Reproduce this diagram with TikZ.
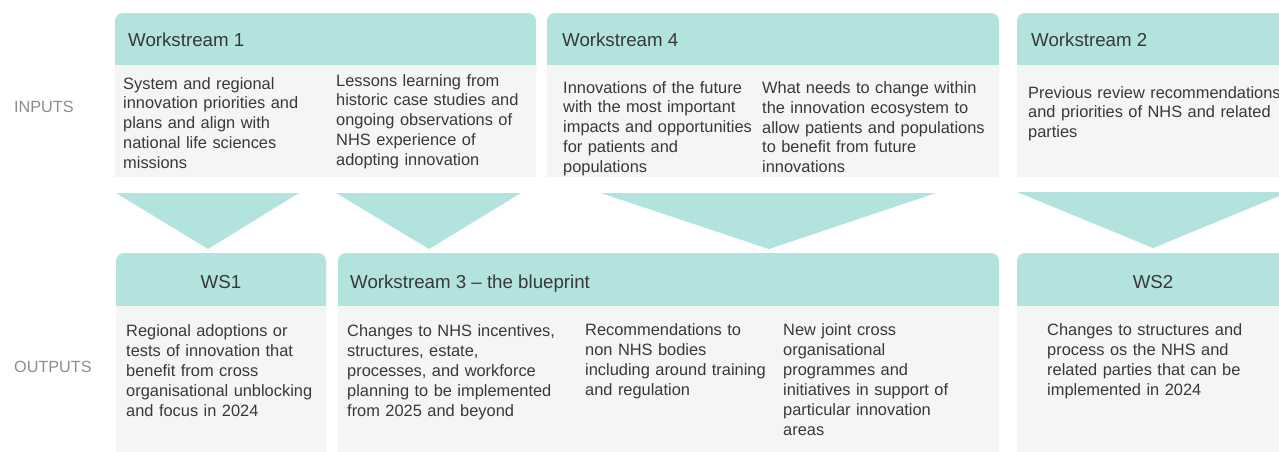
\documentclass[tikz,border=0pt]{standalone}
\usepackage{fontspec}
\setmainfont{Liberation Sans}
\definecolor{hdrteal}{HTML}{B2E3DF}
\definecolor{bodygray}{HTML}{F4F6F6}
\definecolor{txtdark}{HTML}{383838}
\definecolor{sidegray}{HTML}{8C8C8C}
\begin{document}
\begin{tikzpicture}[x=1pt,y=-1pt,
  hdrfill/.style={fill=hdrteal, rounded corners=8pt},
  bodyfill/.style={fill=bodygray},
  funnel/.style={fill=hdrteal},
  bodytext/.style={font=\fontsize{16.4}{19.8}\selectfont, text=txtdark, inner sep=0pt,
    align=left, text width=300pt, anchor=base west},
  hdrtext/.style={font=\fontsize{18.7}{22}\selectfont, text=txtdark, inner sep=0pt},
  sidelabel/.style={font=\fontsize{16.2}{19}\selectfont, text=sidegray, inner sep=0pt, anchor=base west}]
\useasboundingbox (0,0) rectangle (1279,451);
\clip (0,0) rectangle (1279,451);

% ---- input blocks: headers and bodies ----
\path[hdrfill] (115,13) rectangle (536,80);
\path[bodyfill] (115,65) rectangle (536,177);
\path[hdrfill] (547,13) rectangle (999,80);
\path[bodyfill] (547,65) rectangle (999,177);
\path[hdrfill] (1017,13) rectangle (1300,80);
\path[bodyfill] (1017,65) rectangle (1300,177);

% ---- funnels between inputs and outputs ----
\path[funnel] (116,193) -- (299,193) -- (208,249) -- cycle;
\path[funnel] (336,193) -- (521,193) -- (429,249) -- cycle;
\path[funnel] (601,193) -- (936,193) -- (769,249) -- cycle;
\path[funnel] (1017,192) -- (1289,192) -- (1153,248) -- cycle;

% ---- output blocks: headers and bodies ----
\path[hdrfill] (116,253) rectangle (326,320);
\path[bodyfill] (116,306) rectangle (326,470);
\path[hdrfill] (338,253) rectangle (999,320);
\path[bodyfill] (338,306) rectangle (999,470);
\path[hdrfill] (1017,253) rectangle (1300,320);
\path[bodyfill] (1017,306) rectangle (1300,470);

% ---- side labels ----
\node[sidelabel] (inputs) at (14,112) {INPUTS};
\node[sidelabel] (outputs) at (14,372) {OUTPUTS};

% ---- header titles ----
\node[hdrtext, anchor=base west] (h1) at (128,46.7) {Workstream 1};
\node[hdrtext, anchor=base west] (h4) at (562,46.7) {Workstream 4};
\node[hdrtext, anchor=base west] (h2) at (1031,46.7) {Workstream 2};
\node[hdrtext, anchor=base] (o1) at (221,288) {WS1};
\node[hdrtext, anchor=base west] (o3) at (350,288) {Workstream 3 – the blueprint};
\node[hdrtext, anchor=base] (o2) at (1153,288) {WS2};

% ---- input texts (cut off at the foot of the bodies) ----
\begin{scope}
\clip (0,0) rectangle (1279,177);
\node[bodytext] (in1a) at (123,89) {System and regional\\innovation priorities and\\plans and align with\\national life sciences\\missions};
\node[bodytext] (in1b) at (336,86) {Lessons learning from\\historic case studies and\\ongoing observations of\\NHS experience of\\adopting innovation};
\node[bodytext] (in4a) at (563,93) {Innovations of the future\\with the most important\\impacts and opportunities\\for patients and\\populations};
\node[bodytext] (in4b) at (762,93.5) {What needs to change within\\the innovation ecosystem to\\allow patients and populations\\to benefit from future\\innovations};
\node[bodytext] (in2) at (1028,98) {Previous review recommendations\\and priorities of NHS and related\\parties};
\end{scope}

% ---- output texts ----
\begin{scope}[bodytext/.append style={font=\fontsize{16.4}{20}\selectfont}]
\node[bodytext] (out1) at (126,336) {Regional adoptions or\\tests of innovation that\\benefit from cross\\organisational unblocking\\and focus in 2024};
\node[bodytext] (out3a) at (347,336) {Changes to NHS incentives,\\structures, estate,\\processes, and workforce\\planning to be implemented\\from 2025 and beyond};
\node[bodytext] (out3b) at (585,335.5) {Recommendations to\\non NHS bodies\\including around training\\and regulation};
\node[bodytext] (out3c) at (783,335.5) {New joint cross\\organisational\\programmes and\\initiatives in support of\\particular innovation\\areas};
\node[bodytext] (out2) at (1047,335.5) {Changes to structures and\\process os the NHS and\\related parties that can be\\implemented in 2024};
\end{scope}
\end{tikzpicture}
\end{document}
